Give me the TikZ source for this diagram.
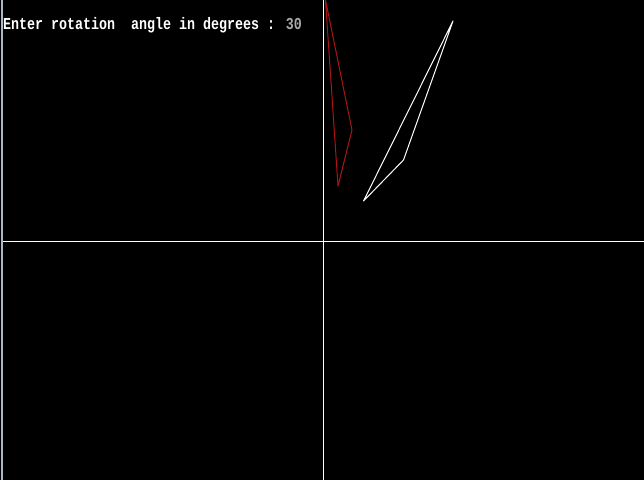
\documentclass[tikz,border=0pt]{standalone}
\usepackage{fontspec}
\newfontfamily\dosfont{Liberation Mono}
\definecolor{dosred}{RGB}{175,20,20}
\definecolor{dosgray}{RGB}{168,168,168}
\definecolor{dosedge}{RGB}{170,185,200}
\begin{document}
\begin{tikzpicture}[x=1pt,y=-1pt,
  axis/.style={white,line width=1pt},
  shapeline/.style={line width=1pt,line join=round},
  label/.style={inner sep=0pt,anchor=base west,font=\dosfont\bfseries\fontsize{13.33}{14}\selectfont}]
\fill[black] (0,0) rectangle (644,480);
\useasboundingbox (0,0) rectangle (644,480);
% left edge
\draw[dosedge,line width=1.5pt] (2,0) -- (2,480);
% axes
\coordinate (vt) at (323.5,0);
\coordinate (vb) at (323.5,480);
\coordinate (hl) at (3,241.5);
\coordinate (hr) at (644,241.5);
\draw[axis] (vt) -- (vb);
\draw[axis] (hl) -- (hr);
% original triangle (white)
\coordinate (a) at (453,21);
\coordinate (b) at (403.5,160);
\coordinate (c) at (363.5,201);
\draw[shapeline,white] (a) -- (b) -- (c) -- cycle;
% rotated triangle (red)
\coordinate (p) at (325.5,0);
\coordinate (q) at (352,130);
\coordinate (r) at (338,186);
\draw[shapeline,dosred] (p) -- (q) -- (r) -- cycle;
% prompt
\node[label] (prompt) at (3,29) {\scalebox{1}[1.25]{\color{white}Enter rotation\ \ angle in degrees : \color{dosgray}30}};
\end{tikzpicture}
\end{document}
